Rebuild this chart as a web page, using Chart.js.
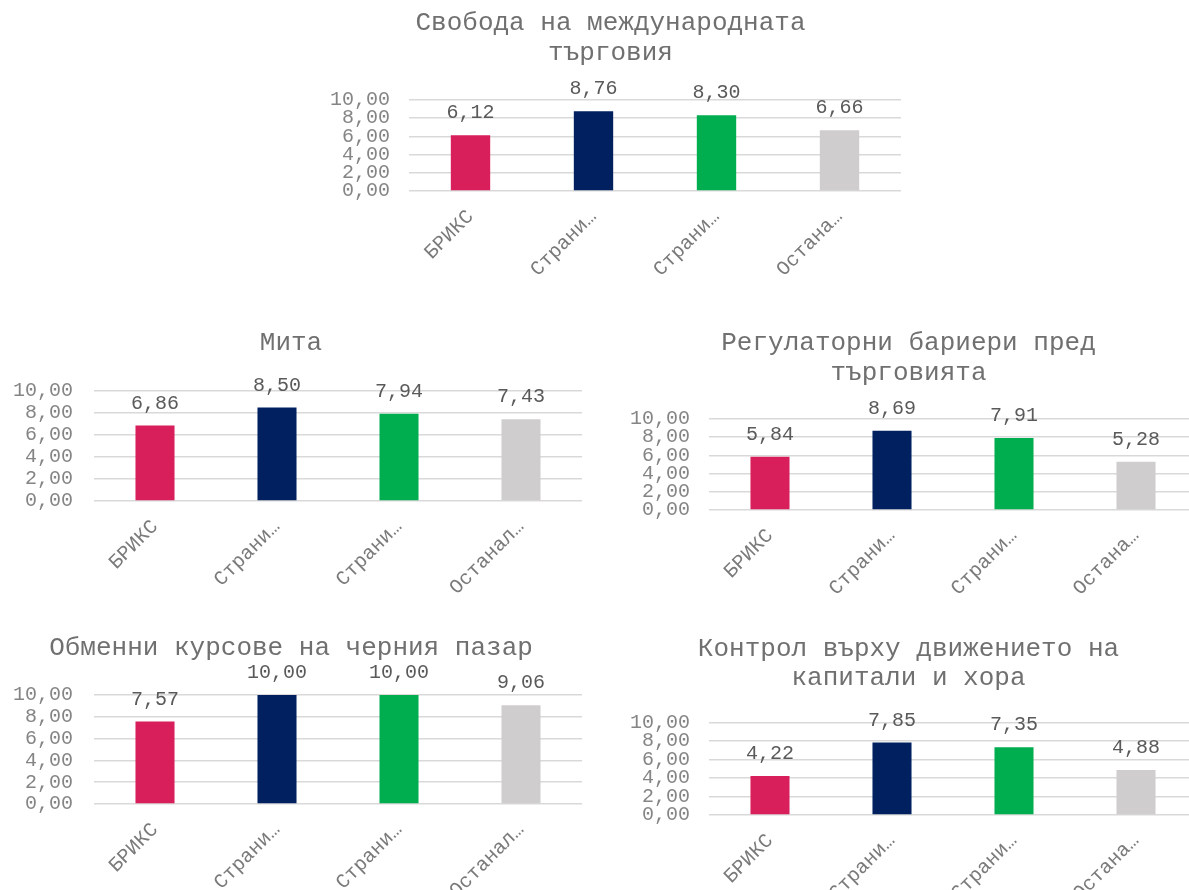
<!DOCTYPE html>
<html>
<head>
<meta charset="utf-8">
<script src="https://cdn.jsdelivr.net/npm/chart.js@4"></script>
<style>
html, body { margin:0; padding:0; background:#ffffff; overflow:hidden; width:1189px; height:890px; }
canvas { position:absolute; }
</style>
</head>
<body>
<canvas id="c1"></canvas>
<canvas id="c2"></canvas>
<canvas id="c3"></canvas>
<canvas id="c4"></canvas>
<canvas id="c5"></canvas>
<script>
// ---- data ----
const catsShort = ["БРИКС", "Страни…", "Страни…", "Остана…"];
const catsLong = ["БРИКС", "Страни…", "Страни…", "Останал…"];
const yTicks = [0, 2, 4, 6, 8, 10];

const title1 = ["Свобода на международната", "търговия"];
const title2 = ["Мита"];
const title3 = ["Регулаторни бариери пред", "търговията"];
const title4 = ["Обменни курсове на черния пазар"];
const title5 = ["Контрол върху движението на", "капитали и хора"];

const tradeFreedom = [6.12, 8.76, 8.30, 6.66];
const tariffs = [6.86, 8.50, 7.94, 7.43];
const regulatoryBarriers = [5.84, 8.69, 7.91, 5.28];
const blackMarketRates = [7.57, 10.00, 10.00, 9.06];
const capitalControls = [4.22, 7.85, 7.35, 4.88];

const barColors = ["#D81E5B", "#002060", "#00AD4F", "#CFCDCD"];

// ---- layout / style ----
const FONT = "'Liberation Mono', 'Courier New', monospace";
const fmt = v => Number(v).toFixed(2).replace('.', ',');

const valueLabels = {
  id: 'valueLabels',
  afterDatasetsDraw(chart) {
    const ctx = chart.ctx;
    const meta = chart.getDatasetMeta(0);
    const data = chart.data.datasets[0].data;
    ctx.save();
    ctx.font = "20px " + FONT;
    ctx.fillStyle = "#5a5a5a";
    ctx.textAlign = "center";
    ctx.textBaseline = "alphabetic";
    meta.data.forEach((bar, i) => {
      ctx.fillText(fmt(data[i]), bar.x, bar.y - 17);
    });
    ctx.restore();
  }
};

function makeChart(id, box, title, labels, values) {
  const cv = document.getElementById(id);
  cv.width = box.w; cv.height = box.h;
  cv.style.left = box.left + "px"; cv.style.top = box.top + "px";
  cv.style.width = box.w + "px"; cv.style.height = box.h + "px";
  return new Chart(cv, {
    type: 'bar',
    data: {
      labels: labels,
      datasets: [{
        data: values,
        backgroundColor: barColors,
        borderWidth: 0,
        categoryPercentage: 1.0,
        barPercentage: 0.32
      }]
    },
    options: {
      responsive: false,
      animation: false,
      devicePixelRatio: 1,
      layout: { padding: { left: 0, right: box.padRight, top: 0, bottom: 0 } },
      plugins: {
        legend: { display: false },
        tooltip: { enabled: false },
        title: {
          display: true,
          text: title,
          color: "#707070",
          font: { family: FONT, size: 26, weight: 'normal', lineHeight: 1.12 },
          padding: { top: box.pt, bottom: box.pb }
        }
      },
      scales: {
        x: {
          grid: { display: false },
          border: { display: false },
          ticks: {
            color: "#7a7a7a",
            font: { family: FONT, size: 20 },
            minRotation: 45, maxRotation: 45,
            autoSkip: false,
            padding: 6
          },
          afterFit: s => { s.height = box.xH; }
        },
        y: {
          min: 0, max: 10,
          afterBuildTicks: s => { s.ticks = yTicks.map(v => ({ value: v })); },
          grid: { color: "#D9D9D9", lineWidth: 1.5, drawTicks: false },
          border: { display: false },
          ticks: {
            color: "#858585",
            font: { family: FONT, size: 20 },
            autoSkip: false,
            padding: box.yPad,
            callback: v => fmt(v)
          },
          afterFit: s => { s.width = box.yW; }
        }
      }
    },
    plugins: [valueLabels]
  });
}

makeChart('c1', { left: 320, top: 0, w: 594, h: 300, yW: 89, yPad: 19, pt: 9, pb: 32.6, xH: 109, padRight: 13 }, title1, catsShort, tradeFreedom);
makeChart('c2', { left: 0, top: 320, w: 602, h: 300, yW: 94, yPad: 21, pt: 9, pb: 33, xH: 119, padRight: 20 }, title2, catsLong, tariffs);
makeChart('c3', { left: 620, top: 320, w: 598, h: 300, yW: 89, yPad: 19, pt: 9, pb: 31.6, xH: 110, padRight: 21 }, title3, catsShort, regulatoryBarriers);
makeChart('c4', { left: 0, top: 620, w: 604, h: 270, yW: 94, yPad: 21, pt: 14, pb: 32, xH: 86, padRight: 22 }, title4, catsLong, blackMarketRates);
makeChart('c5', { left: 620, top: 620, w: 598, h: 270, yW: 89, yPad: 19, pt: 14.7, pb: 29.8, xH: 75, padRight: 21 }, title5, catsShort, capitalControls);
</script>
</body>
</html>
